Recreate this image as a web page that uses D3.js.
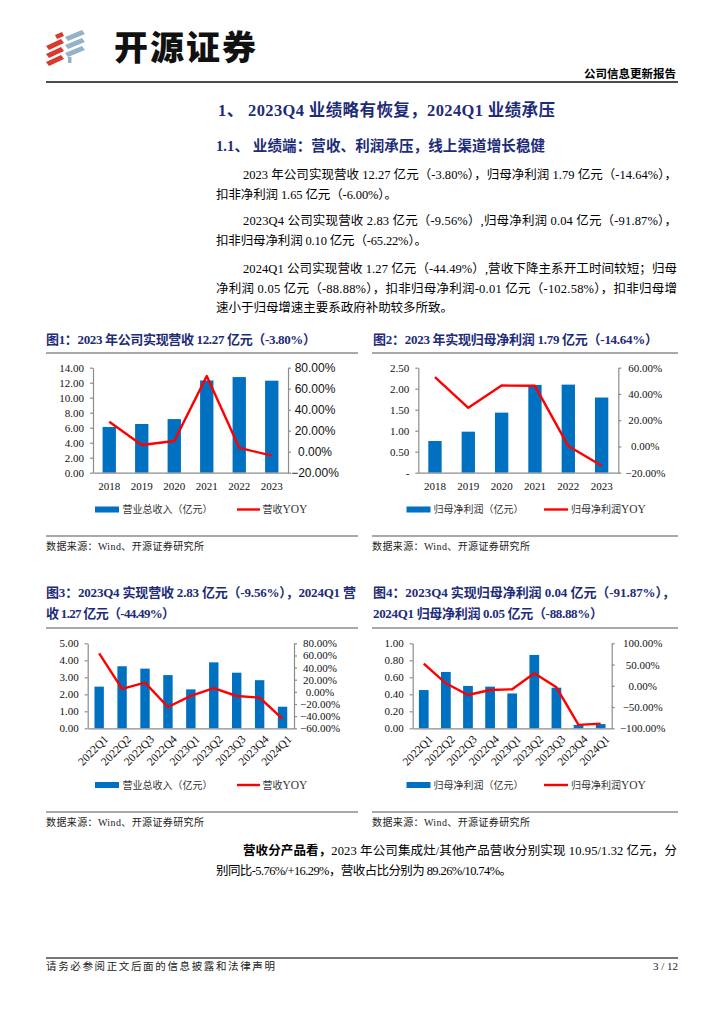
<!DOCTYPE html>
<html><head><meta charset="utf-8">
<script src="https://cdn.jsdelivr.net/npm/d3@7"></script>
<style>body{margin:0;background:#fff} svg{display:block}</style>
</head><body><svg id="page" width="724" height="1024"></svg>
<script>
// ---------------- DATA ----------------
const years = ["2018","2019","2020","2021","2022","2023"];
const revenueAnnual = [6.10, 6.49, 7.15, 12.30, 12.75, 12.27];
const revenueAnnualYoy = [28.5, 6.4, 10.2, 72.0, 3.7, -3.80];
const profitAnnual = [0.755, 0.977, 1.43, 2.09, 2.097, 1.79];
const profitAnnualYoy = [52.9, 29.4, 46.4, 46.2, 0.3, -14.64];

const quarters = ["2022Q1","2022Q2","2022Q3","2022Q4","2023Q1","2023Q2","2023Q3","2023Q4","2024Q1"];
const revenueQ = [2.45, 3.65, 3.51, 3.13, 2.29, 3.88, 3.27, 2.83, 1.27];
const revenueQYoy = [63.5, 4.8, 15.2, -24.9, -6.5, 6.3, -6.8, -9.56, -44.49];
const profitQ = [0.45, 0.663, 0.498, 0.49, 0.41, 0.863, 0.478, 0.04, 0.05];
const profitQYoy = [52.2, 5.9, -21.6, -9.8, -8.2, 29.4, -3.5, -91.87, -88.88];

const annualRevTicks = [0, 2, 4, 6, 8, 10, 12, 14];
const annualRevYoyTicks = [-20, 0, 20, 40, 60, 80];
const annualProfitTicks = [0, 0.5, 1, 1.5, 2, 2.5];
const annualProfitYoyTicks = [-20, 0, 20, 40, 60];
const qRevTicks = [0, 1, 2, 3, 4, 5];
const qRevYoyTicks = [-60, -40, -20, 0, 20, 40, 60, 80];
const qProfitTicks = [0, 0.2, 0.4, 0.6, 0.8, 1.0];
const qProfitYoyTicks = [-100, -50, 0, 50, 100];

const legendRevenue = ["营业总收入（亿元）", "营收YOY"];
const legendProfit = ["归母净利润（亿元）", "归母净利润YOY"];

// ---------------- STYLE ----------------
const SERIF = '"Liberation Serif","Times New Roman","Noto Sans CJK SC",serif';
const SANS = '"Liberation Sans",Arial,"Noto Sans CJK SC",sans-serif';
const NAVY = "#1d2b78";
const BAR = "#0070C0";
const RED = "#FF0000";
const AXIS = "#8c8c8c";

const svg = d3.select("#page");
svg.append("rect").attr("width", 724).attr("height", 1024).attr("fill", "#fff");

function txt(x, y, s, o = {}) {
  const t = svg.append("text").attr("x", x).attr("y", y)
    .attr("font-family", o.family || SERIF)
    .attr("font-size", o.size || 12.5)
    .attr("font-weight", o.weight || "normal")
    .attr("fill", o.fill || "#000")
    .attr("text-anchor", o.anchor || "start");
  if (o.len) t.attr("textLength", o.len).attr("lengthAdjust", "spacing");
  if (Array.isArray(s)) {
    s.forEach(p => t.append("tspan").attr("font-weight", p.w || null).text(p.t));
  } else t.text(s);
  return t;
}
function hline(x1, x2, y, c, w) {
  svg.append("line").attr("x1", x1).attr("x2", x2).attr("y1", y).attr("y2", y)
    .attr("stroke", c).attr("stroke-width", w);
}

// ---------------- HEADER ----------------
const logo = svg.append("g");
const redBars = [[46,42],[46,50],[46,58]];
redBars.forEach(([x,y]) => {
  logo.append("path").attr("d", `M${x},${y+4} L${x+15},${y-3} L${x+18},${y+1} L${x+3},${y+8} Z`).attr("fill", "#d93a30");
});
logo.append("path").attr("d", "M55,35 L62,32 L64,36 L57,39 Z").attr("fill", "#d93a30");
const blueBars = [[65,33],[65,41],[65,49]];
blueBars.forEach(([x,y]) => {
  logo.append("path").attr("d", `M${x},${y+4} L${x+17},${y-3} L${x+20},${y+1} L${x+3},${y+8} Z`).attr("fill", "#93b4c8");
});
logo.append("path").attr("d", "M68,57 L71.5,57 L71.5,63 L68,63 Z").attr("fill", "#93b4c8");

txt(114, 60, "开源证券", { family: '"Noto Sans CJK SC",sans-serif', size: 34, weight: 900, fill: "#111", len: 142 });
txt(676, 78, "公司信息更新报告", { family: '"Noto Sans CJK SC",sans-serif', size: 11.5, weight: "bold", anchor: "end" });
hline(46, 678, 82, "#111", 1.5);

txt(218, 116, "1、 2023Q4 业绩略有恢复，2024Q1 业绩承压", { size: 16.5, weight: "bold", fill: NAVY, len: 337 });
txt(216, 151, "1.1、 业绩端：营收、利润承压，线上渠道增长稳健", { size: 14.5, weight: "bold", fill: NAVY, len: 329 });

const body = [
  [243, 178.5, "2023 年公司实现营收 12.27 亿元（-3.80%），归母净利润 1.79 亿元（-14.64%），", 434],
  [216, 198.5, "扣非净利润 1.65 亿元（-6.00%）。", 181],
  [243, 225, "2023Q4 公司实现营收 2.83 亿元（-9.56%）,归母净利润 0.04 亿元（-91.87%），", 434],
  [216, 245, "扣非归母净利润 0.10 亿元（-65.22%）。", 211],
  [243, 272.5, "2024Q1 公司实现营收 1.27 亿元（-44.49%）,营收下降主系开工时间较短；归母", 434],
  [216, 292.5, "净利润 0.05 亿元（-88.88%），扣非归母净利润-0.01 亿元（-102.58%），扣非归母增", 461],
  [216, 312, "速小于归母增速主要系政府补助较多所致。", 237]
];
body.forEach(([x, y, s, l]) => txt(x, y, s, { size: 12.5, len: l }));

// ---------------- FIGURE TITLES ----------------
const figT = { size: 13, weight: "bold", fill: NAVY };
txt(46, 344, "图1：2023 年公司实现营收 12.27 亿元（-3.80%）", { ...figT, len: 270 });
txt(373, 344, "图2：2023 年实现归母净利润 1.79 亿元（-14.64%）", { ...figT, len: 285 });
hline(46, 358, 353, AXIS, 1.5);
hline(372, 678, 353, AXIS, 1.5);

txt(46, 597, "图3：2023Q4 实现营收 2.83 亿元（-9.56%），2024Q1 营", { ...figT, len: 310 });
txt(46, 618, "收 1.27 亿元（-44.49%）", { ...figT, len: 129 });
txt(373, 597, "图4：2023Q4 实现归母净利润 0.04 亿元（-91.87%），", { ...figT, len: 302 });
txt(373, 618, "2024Q1 归母净利润 0.05 亿元（-88.88%）", { ...figT, len: 230 });
hline(46, 358, 628, AXIS, 1.5);
hline(372, 678, 628, AXIS, 1.5);

// sources
[[536, 550], [812, 826]].forEach(([ly, ty]) => {
  hline(46, 358, ly, AXIS, 1.5);
  hline(372, 678, ly, AXIS, 1.5);
  txt(46, ty, "数据来源：Wind、开源证券研究所", { size: 10, len: 158, fill: "#222" });
  txt(372, ty, "数据来源：Wind、开源证券研究所", { size: 10, len: 158, fill: "#222" });
});

// ---------------- CHARTS ----------------
function drawChart(cfg) {
  const g = svg.append("g");
  const x = d3.scalePoint().domain(cfg.cats).range([cfg.left, cfg.right]).padding(0.5);
  const step = x.step();
  const yL = d3.scaleLinear().domain(cfg.leftDomain).range([cfg.bottom, cfg.top]);
  const yR = d3.scaleLinear().domain(cfg.rightDomain).range([cfg.bottom, cfg.top]);
  const bw = step * cfg.barRatio;

  // bars
  g.selectAll(".bar").data(cfg.bars).join("rect")
    .attr("x", (d, i) => x(cfg.cats[i]) - bw / 2)
    .attr("y", d => yL(d))
    .attr("width", bw)
    .attr("height", d => yL(0) - yL(d))
    .attr("fill", BAR);

  // axes
  const la = g.append("g").attr("transform", `translate(${cfg.left},0)`)
    .call(d3.axisLeft(yL).tickValues(cfg.leftTicks).tickFormat(cfg.leftFmt).tickSize(3).tickSizeOuter(0).tickPadding(6));
  const ra = g.append("g").attr("transform", `translate(${cfg.right},0)`)
    .call(d3.axisRight(yR).tickValues(cfg.rightTicks).tickFormat(d => d3.format(".2f")(d) + "%").tickSize(3).tickSizeOuter(0).tickPadding(4));
  const ba = g.append("g").attr("transform", `translate(0,${cfg.bottom})`)
    .call(d3.axisBottom(x).tickSize(0).tickSizeOuter(0).tickFormat(""));
  [la, ra, ba].forEach(a => {
    a.select(".domain").attr("stroke", AXIS).attr("stroke-width", 1.2);
    a.selectAll(".tick line").attr("stroke", AXIS).attr("stroke-width", 1.2);
  });
  la.selectAll(".tick text").attr("font-family", SERIF).attr("font-size", 11).attr("fill", "#111");
  ra.selectAll(".tick text").attr("font-family", cfg.rightFamily).attr("font-size", cfg.rightSize)
    .attr("fill", "#111").attr("text-anchor", "middle").attr("x", cfg.rightLabelX);

  // category labels
  if (cfg.rotate) {
    g.selectAll(".cat").data(cfg.cats).join("text")
      .attr("transform", d => `translate(${x(d) + 4},${cfg.bottom + 6}) rotate(-45)`)
      .attr("text-anchor", "end").attr("dy", "0.7em")
      .attr("font-family", SERIF).attr("font-size", 11.5).attr("fill", "#111")
      .text(d => d);
  } else {
    g.selectAll(".cat").data(cfg.cats).join("text")
      .attr("x", d => x(d)).attr("y", cfg.bottom + 17.5)
      .attr("text-anchor", "middle")
      .attr("font-family", SERIF).attr("font-size", 11).attr("fill", "#111")
      .text(d => d);
  }

  // line
  const line = d3.line().x((d, i) => x(cfg.cats[i])).y(d => yR(d));
  g.append("path").datum(cfg.yoy).attr("d", line)
    .attr("fill", "none").attr("stroke", RED).attr("stroke-width", 2.4)
    .attr("stroke-linejoin", "round");

  // legend
  const L = cfg.legend;
  g.append("rect").attr("x", L.bx).attr("y", L.y - 3).attr("width", L.bw).attr("height", 6).attr("fill", BAR);
  g.append("text").attr("x", L.tx).attr("y", L.y + 3.8)
    .attr("font-family", '"Noto Sans CJK SC",sans-serif').attr("font-size", 10).attr("fill", "#333")
    .attr("textLength", L.tl).attr("lengthAdjust", "spacing").text(cfg.legendText[0]);
  g.append("line").attr("x1", L.lx).attr("x2", L.lx + L.lw).attr("y1", L.y).attr("y2", L.y)
    .attr("stroke", RED).attr("stroke-width", 2.4);
  const t2 = g.append("text").attr("x", L.tx2).attr("y", L.y + 3.8)
    .attr("font-family", '"Noto Sans CJK SC",sans-serif').attr("font-size", 10).attr("fill", "#333");
  const lbl = cfg.legendText[1];
  const cut = lbl.indexOf("YOY");
  t2.append("tspan").text(lbl.slice(0, cut));
  t2.append("tspan").attr("font-family", SERIF).attr("font-size", 11.5).text("YOY");
}

drawChart({
  cats: years, bars: revenueAnnual, yoy: revenueAnnualYoy,
  left: 93, right: 288, top: 367.7, bottom: 472.7,
  leftDomain: [0, 14], rightDomain: [-20, 80],
  leftTicks: annualRevTicks, rightTicks: annualRevYoyTicks,
  leftFmt: d3.format(".2f"), barRatio: 0.41,
  rightFamily: SANS, rightSize: 12, rightLabelX: 27,
  legendText: legendRevenue,
  legend: { y: 509.5, bx: 95, bw: 24, tx: 122.5, tl: 90, lx: 237, lw: 23, tx2: 262.5 }
});
drawChart({
  cats: years, bars: profitAnnual, yoy: profitAnnualYoy,
  left: 418.3, right: 618.3, top: 367.7, bottom: 472.7,
  leftDomain: [0, 2.5], rightDomain: [-20, 60],
  leftTicks: annualProfitTicks, rightTicks: annualProfitYoyTicks,
  leftFmt: d => d === 0 ? "-" : d3.format(".2f")(d), barRatio: 0.4,
  rightFamily: SERIF, rightSize: 11, rightLabelX: 27,
  legendText: legendProfit,
  legend: { y: 509.5, bx: 406.5, bw: 24, tx: 433.5, tl: 90, lx: 544, lw: 24, tx2: 571 }
});
drawChart({
  cats: quarters, bars: revenueQ, yoy: revenueQYoy, rotate: true,
  left: 87.7, right: 294, top: 643.3, bottom: 728.3,
  leftDomain: [0, 5], rightDomain: [-60, 80],
  leftTicks: qRevTicks, rightTicks: qRevYoyTicks,
  leftFmt: d3.format(".2f"), barRatio: 0.41,
  rightFamily: SERIF, rightSize: 11, rightLabelX: 26,
  legendText: legendRevenue,
  legend: { y: 785, bx: 95, bw: 24, tx: 122.5, tl: 90, lx: 237, lw: 23, tx2: 262.5 }
});
drawChart({
  cats: quarters, bars: profitQ, yoy: profitQYoy, rotate: true,
  left: 412.7, right: 611.7, top: 643.3, bottom: 728.3,
  leftDomain: [0, 1], rightDomain: [-100, 100],
  leftTicks: qProfitTicks, rightTicks: qProfitYoyTicks,
  leftFmt: d3.format(".2f"), barRatio: 0.44,
  rightFamily: SERIF, rightSize: 11, rightLabelX: 31,
  legendText: legendProfit,
  legend: { y: 785, bx: 406.5, bw: 24, tx: 433.5, tl: 90, lx: 544, lw: 24, tx2: 571 }
});

// ---------------- BOTTOM TEXT ----------------
txt(243, 855, [{ t: "营收分产品看，", w: "bold" }, { t: "2023 年公司集成灶/其他产品营收分别实现 10.95/1.32 亿元，分" }], { size: 12.5, len: 434 });
txt(216, 875, "别同比-5.76%/+16.29%，营收占比分别为 89.26%/10.74%。", { size: 12.5, len: 296 });

hline(46, 678, 958, "#777", 2);
txt(46, 970, "请务必参阅正文后面的信息披露和法律声明", { size: 10.5, len: 229, fill: "#222" });
txt(678, 970, "3 / 12", { size: 11, anchor: "end", fill: "#222" });
</script>
</body></html>
